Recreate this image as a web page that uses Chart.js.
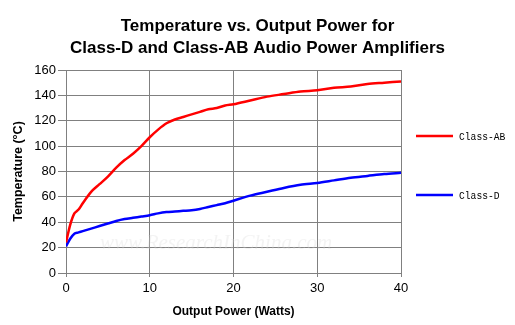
<!DOCTYPE html>
<html>
<head>
<meta charset="utf-8">
<script src="https://cdn.jsdelivr.net/npm/chart.js@4.4.1/dist/chart.umd.min.js"></script>
<style>
  html, body { margin: 0; padding: 0; background: #fff; }
  #wrap { width: 515px; height: 325px; }
</style>
</head>
<body>
<div id="wrap"><canvas id="tempChart"></canvas></div>
<script>
// output power (watts) sampled along the curves
const power = [0, 0.5, 1, 1.5, 2, 3, 4, 5, 6, 7, 8, 9, 10, 11, 12, 13, 14, 15, 16, 17, 18, 19, 20, 22, 24, 26, 28, 30, 32, 34, 36, 38, 40];
const classAB = [24, 38, 47, 50, 55, 64, 70, 76, 83, 89, 94, 100, 107, 113, 118, 121, 123, 125, 127, 129, 130, 132, 133, 136, 139, 141, 143, 144, 146, 147, 149, 150, 151];
const classD = [21, 27, 31, 32, 33, 35, 37, 39, 41, 42.5, 43.5, 44.5, 45.5, 47, 48, 48.5, 49, 49.5, 50.5, 52, 53.5, 55, 57, 61, 64, 67, 69.5, 71, 73, 75, 76.5, 78, 79];
const seriesNames = ['Class-AB', 'Class-D'];
const seriesColors = ['#ff0000', '#0000ff'];
const xTicks = [0, 10, 20, 30, 40];
const yTicks = [0, 20, 40, 60, 80, 100, 120, 140, 160];
const titleLines = ['Temperature vs. Output Power for', 'Class-D and Class-AB Audio Power Amplifiers'];

const toPoints = (ys) => power.map((x, i) => ({ x: x, y: ys[i] }));
const FONT = 'Arial, "Liberation Sans", sans-serif';

// title centred on the whole canvas, not just the plot
const pageTitle = {
  id: 'pageTitle',
  afterDraw(chart) {
    const c = chart.ctx;
    c.save();
    c.font = 'bold 17px ' + FONT;
    c.fillStyle = '#000';
    c.textAlign = 'center';
    c.textBaseline = 'middle';
    c.fillText(titleLines[0], chart.width / 2, 26);
    c.fillText(titleLines[1], chart.width / 2, 48);
    c.restore();
  }
};

// legend on the right, drawn by hand to sit like the original
const sideLegend = {
  id: 'sideLegend',
  afterDraw(chart) {
    const c = chart.ctx;
    const rows = [136, 195];
    c.save();
    c.font = '11.5px "Liberation Mono", "DejaVu Sans Mono", monospace';
    c.textBaseline = 'middle';
    chart.data.datasets.forEach((ds, i) => {
      c.strokeStyle = ds.borderColor;
      c.lineWidth = 2.5;
      c.beginPath();
      c.moveTo(416, rows[i]);
      c.lineTo(453, rows[i]);
      c.stroke();
      c.fillStyle = '#000';
      // squeeze a bit to match the narrow bitmap font of the original
      c.fillText(ds.label, 459, rows[i] + 1, ds.label.length * 5.8);
    });
    c.restore();
  }
};

// faint watermark behind the lines
const watermark = {
  id: 'watermark',
  beforeDatasetsDraw(chart) {
    const c = chart.ctx;
    c.save();
    c.font = 'italic 21px "Liberation Serif", serif';
    c.fillStyle = 'rgba(215,215,215,0.3)';
    c.textBaseline = 'middle';
    c.fillText('www.ResearchInChina.com', 100, 243);
    c.restore();
  }
};

new Chart(document.getElementById('tempChart'), {
  type: 'line',
  data: {
    datasets: [
      { label: seriesNames[0], data: toPoints(classAB), borderColor: seriesColors[0], borderWidth: 2.5, pointRadius: 0, tension: 0.3 },
      { label: seriesNames[1], data: toPoints(classD), borderColor: seriesColors[1], borderWidth: 2.5, pointRadius: 0, tension: 0.3 }
    ]
  },
  options: {
    responsive: true,
    maintainAspectRatio: false,
    animation: false,
    layout: { padding: { top: 70, right: 114, left: 11, bottom: 6 } },
    plugins: {
      legend: { display: false },
      tooltip: { enabled: false },
      title: { display: false }
    },
    scales: {
      x: {
        type: 'linear',
        min: 0,
        max: 40,
        afterBuildTicks: (s) => { s.ticks = xTicks.map(v => ({ value: v })); },
        grid: { color: '#808080', lineWidth: 1, tickLength: 4 },
        border: { color: '#808080' },
        ticks: { color: '#000', font: { family: FONT, size: 13 }, padding: 4, maxRotation: 0 },
        title: { display: true, text: 'Output Power (Watts)', color: '#000', font: { family: FONT, size: 12, weight: 'bold' }, padding: { top: 4, bottom: 0 } }
      },
      y: {
        min: 0,
        max: 160,
        afterBuildTicks: (s) => { s.ticks = yTicks.map(v => ({ value: v })); },
        afterFit: (s) => { s.width = 55; },
        grid: { color: '#808080', lineWidth: 1, tickLength: 8 },
        border: { color: '#808080' },
        ticks: { color: '#000', font: { family: FONT, size: 13 }, padding: 2 },
        title: { display: true, text: 'Temperature (\u00B0C)', color: '#000', font: { family: FONT, size: 12.5, weight: 'bold' }, padding: { top: 0, bottom: 6 } }
      }
    }
  },
  plugins: [watermark, pageTitle, sideLegend]
});
</script>
</body>
</html>
